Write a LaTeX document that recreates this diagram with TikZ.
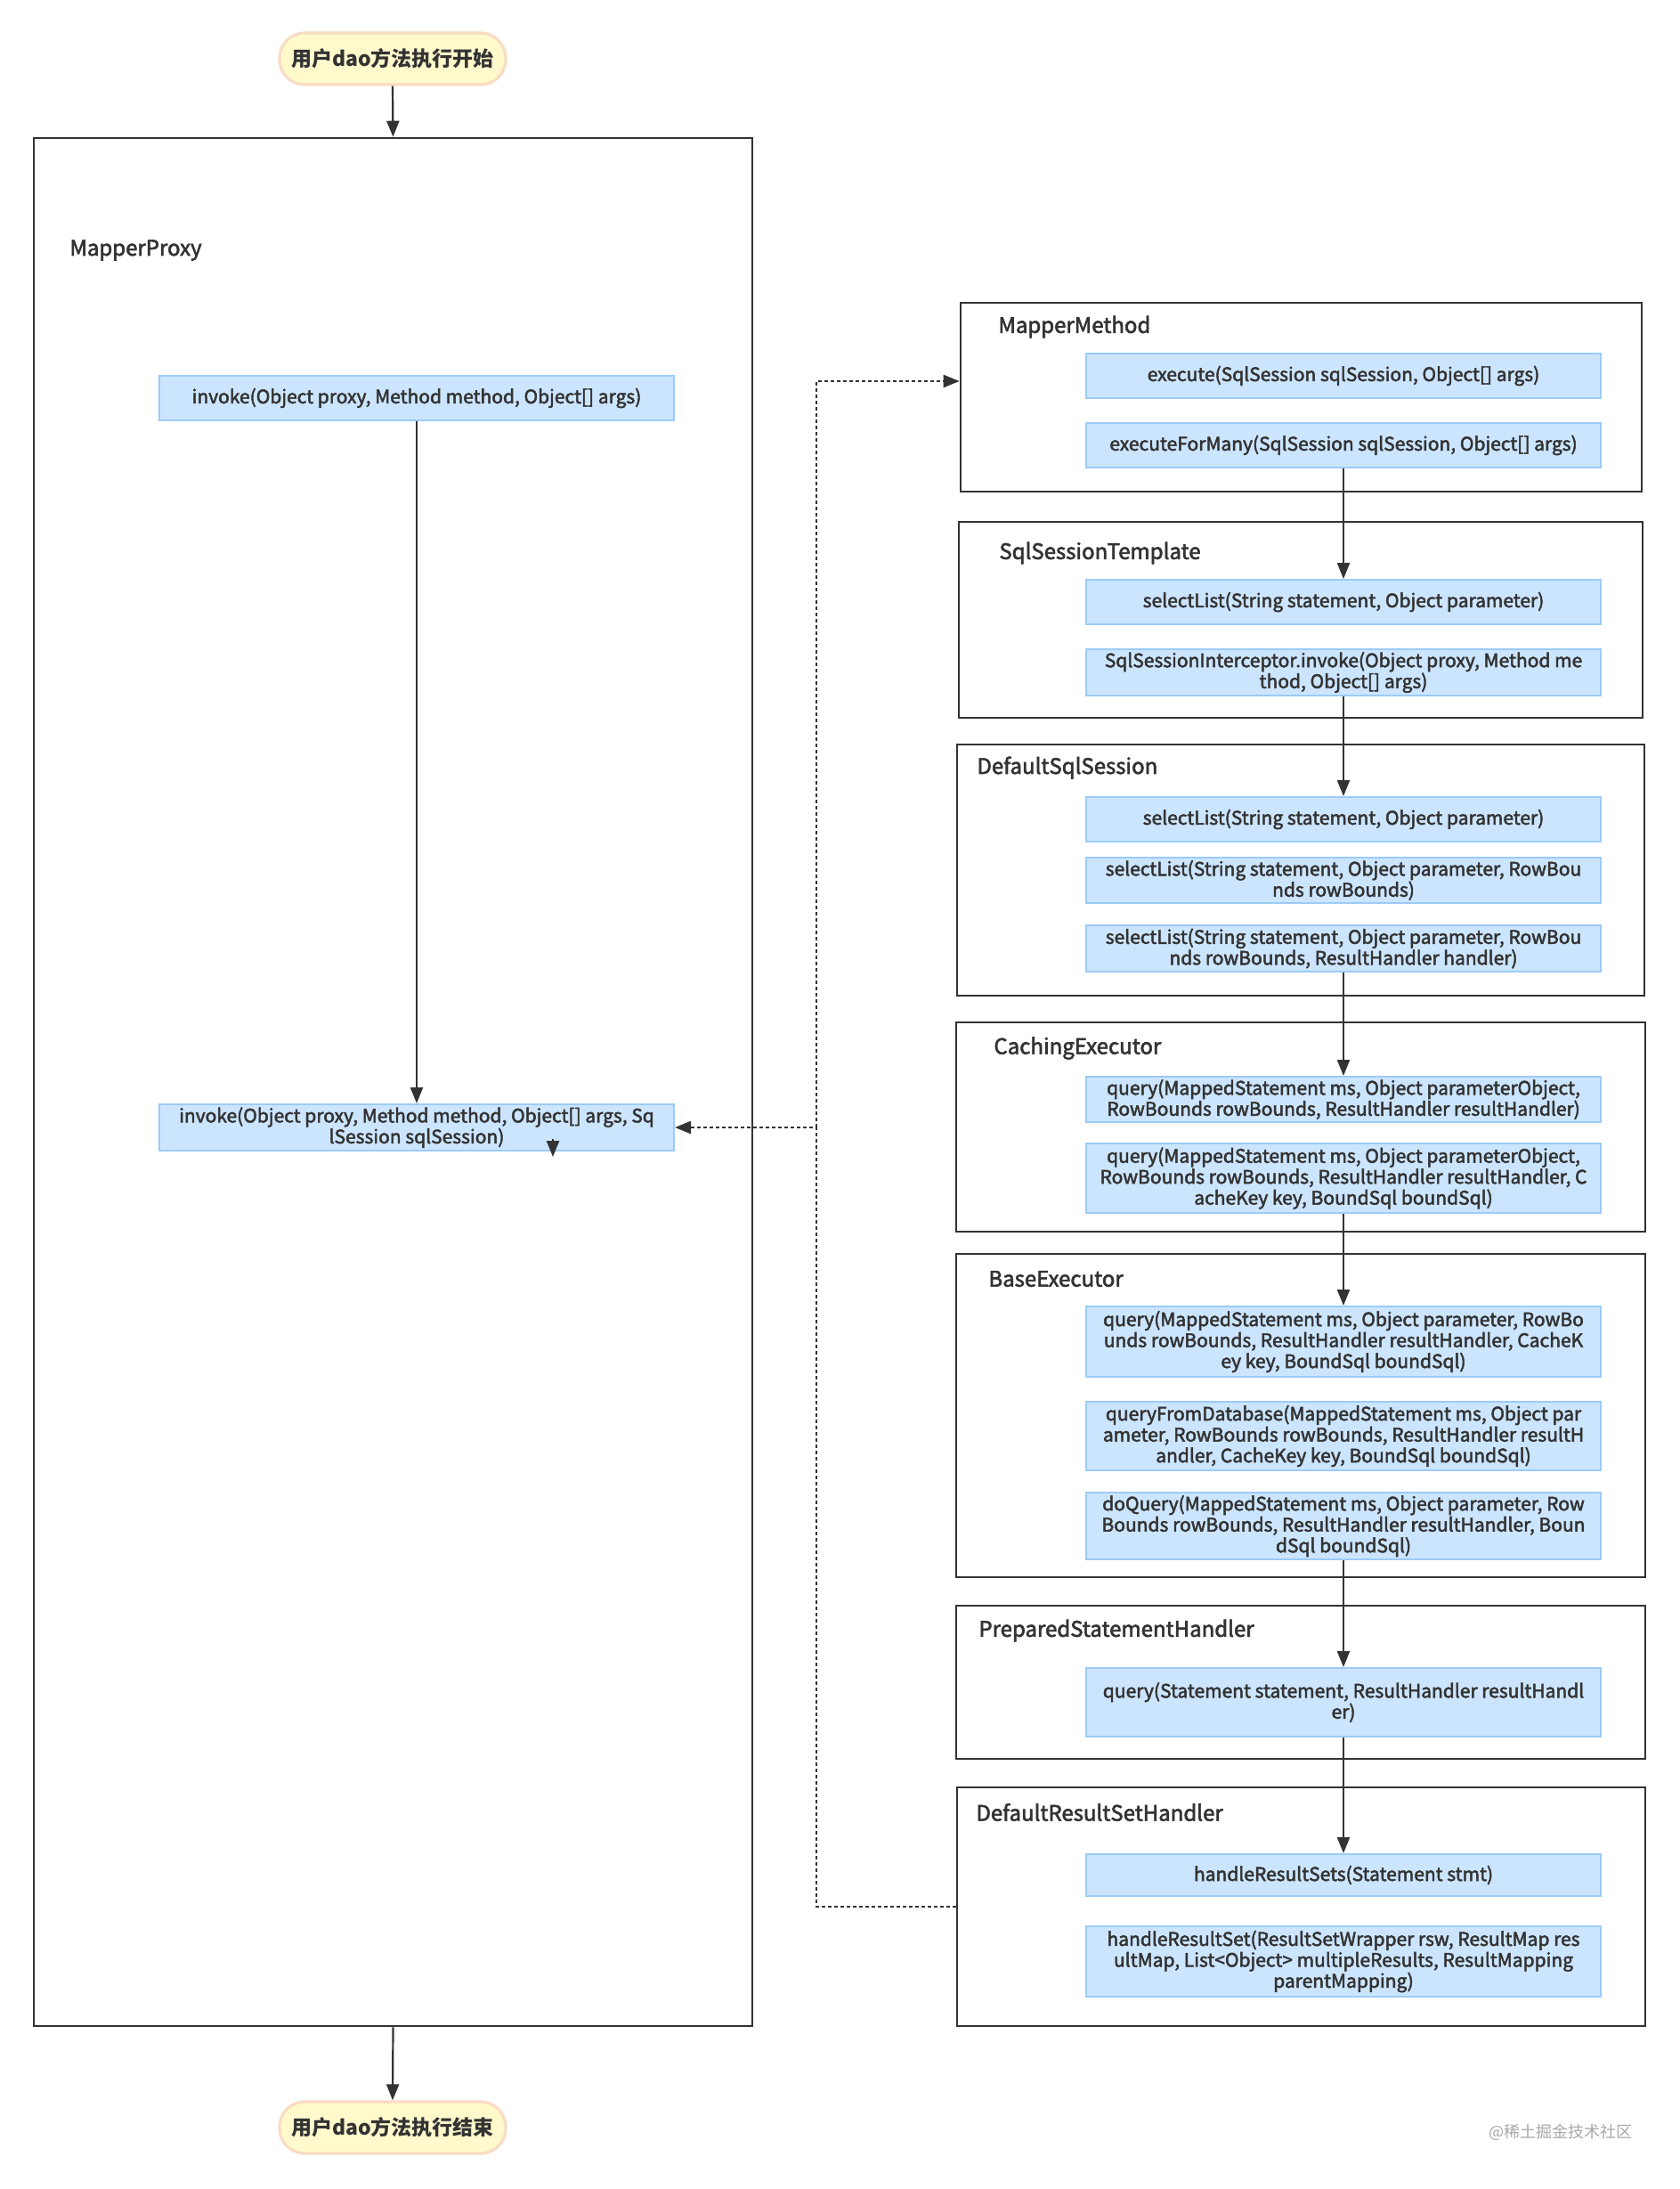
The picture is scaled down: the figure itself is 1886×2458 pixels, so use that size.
\documentclass[tikz,border=0pt]{standalone}
\usepackage{fontspec}
\setmainfont{Noto Sans CJK SC}
\newfontfamily\medfont{Noto Sans CJK SC}[FakeBold=2.4]
\usetikzlibrary{arrows.meta}
\definecolor{ink}{HTML}{333333}
\definecolor{bfill}{HTML}{CCE5FF}
\definecolor{bline}{HTML}{9CCBF7}
\definecolor{pfill}{HTML}{FFF9CC}
\definecolor{pline}{HTML}{F9DCC4}
\definecolor{wm}{HTML}{A8A8A8}
\begin{document}
\begin{tikzpicture}[x=0.5pt,y=-0.5pt,
  cont/.style={draw=ink, line width=1.3pt, inner sep=0pt},
  lbl/.style={anchor=west, inner sep=0pt, text=ink, font=\medfont\fontsize{12}{13.5}\selectfont},
  mb/.style={draw=bline, fill=bfill, line width=1pt, minimum width=289pt, inner sep=0pt, align=center, text=ink, font=\medfont\fontsize{10.5}{11.75}\selectfont},
  pill/.style={draw=pline, fill=pfill, line width=1.6pt, rounded corners=14pt, minimum width=127pt, minimum height=29pt, inner sep=0pt, text=ink, font=\bfseries\fontsize{11.5}{13}\selectfont},
  flow/.style={draw=ink, line width=1.1pt, -{Triangle[length=9pt,width=7pt]}},
  dflow/.style={flow, dash pattern=on 2pt off 1.5pt}
]
\useasboundingbox (0,0) rectangle (1886,2458);
\fill[white] (0,0) rectangle (1886,2458);

% containers
\node[cont, minimum width=403.5pt, minimum height=1060pt] (mp) at (441.5,1215) {};
\node[cont, minimum width=382.5pt, minimum height=106pt] (mm) at (1461.5,446) {};
\node[cont, minimum width=384pt, minimum height=110pt] (sst) at (1461,696) {};
\node[cont, minimum width=386pt, minimum height=141pt] (dss) at (1461,977) {};
\node[cont, minimum width=387pt, minimum height=117.5pt] (ce) at (1461,1265.5) {};
\node[cont, minimum width=387pt, minimum height=181.5pt] (be) at (1461,1589.5) {};
\node[cont, minimum width=387pt, minimum height=86pt] (psh) at (1461,1889) {};
\node[cont, minimum width=386.5pt, minimum height=134pt] (drsh) at (1461.5,2141) {};

% container labels
\node[lbl] (mpl) at (78,281) {MapperProxy};
\node[lbl] (mml) at (1121,367) {MapperMethod};
\node[lbl] (sstl) at (1122,621) {SqlSessionTemplate};
\node[lbl] (dssl) at (1097,862) {DefaultSqlSession};
\node[lbl] (cel) at (1116,1177) {CachingExecutor};
\node[lbl] (bel) at (1110,1436) {BaseExecutor};
\node[lbl] (pshl) at (1099,1831) {PreparedStatementHandler};
\node[lbl] (drshl) at (1096,2035) {DefaultResultSetHandler};

% start / end
\node[pill] (st) at (441,66) {用户dao方法执行开始};
\node[pill] (en) at (441,2389) {用户dao方法执行结束};

% left boxes
\node[mb, minimum height=25pt] (inv1) at (468,447) {invoke(Object proxy, Method method, Object[] args)};
\node[mb, minimum height=26pt] (inv2) at (468,1266) {invoke(Object proxy, Method method, Object[] args, Sq\\lSession sqlSession)};

% right boxes
\node[mb, minimum height=25pt] (ex) at (1509,422) {execute(SqlSession sqlSession, Object[] args)};
\node[mb, minimum height=25pt] (exm) at (1509,500) {executeForMany(SqlSession sqlSession, Object[] args)};
\node[mb, minimum height=25pt] (sl0) at (1509,676) {selectList(String statement, Object parameter)};
\node[mb, minimum height=26pt] (ssi) at (1509,755) {SqlSessionInterceptor.invoke(Object proxy, Method me\\thod, Object[] args)};
\node[mb, minimum height=25pt] (sl1) at (1509,920) {selectList(String statement, Object parameter)};
\node[mb, minimum height=25.5pt] (sl2) at (1509,988.5) {selectList(String statement, Object parameter, RowBou\\nds rowBounds)};
\node[mb, minimum height=26pt] (sl3) at (1509,1065) {selectList(String statement, Object parameter, RowBou\\nds rowBounds, ResultHandler handler)};
\node[mb, minimum height=25.5pt] (q1) at (1509,1234.5) {query(MappedStatement ms, Object parameterObject,\\RowBounds rowBounds, ResultHandler resultHandler)};
\node[mb, minimum height=39pt] (q2) at (1509,1323) {query(MappedStatement ms, Object parameterObject,\\RowBounds rowBounds, ResultHandler resultHandler, C\\acheKey key, BoundSql boundSql)};
\node[mb, minimum height=39.5pt] (bq) at (1509,1506.5) {query(MappedStatement ms, Object parameter, RowBo\\unds rowBounds, ResultHandler resultHandler, CacheK\\ey key, BoundSql boundSql)};
\node[mb, minimum height=38.5pt] (qfd) at (1509,1612.5) {queryFromDatabase(MappedStatement ms, Object par\\ameter, RowBounds rowBounds, ResultHandler resultH\\andler, CacheKey key, BoundSql boundSql)};
\node[mb, minimum height=37.5pt] (dq) at (1509,1713.5) {doQuery(MappedStatement ms, Object parameter, Row\\Bounds rowBounds, ResultHandler resultHandler, Boun\\dSql boundSql)};
\node[mb, minimum height=38.5pt] (pq) at (1509,1911.5) {query(Statement statement, ResultHandler resultHandl\\er)};
\node[mb, minimum height=23.5pt] (hrs) at (1509,2105.5) {handleResultSets(Statement stmt)};
\node[mb, minimum height=39.5pt] (hr) at (1509,2202.5) {handleResultSet(ResultSetWrapper rsw, ResultMap res\\ultMap, List<Object> multipleResults, ResultMapping\\parentMapping)};

% solid arrows
\draw[flow] (st.south) -- (mp.north);
\draw[flow] (mp.south) -- (en.north);
\draw[flow] (inv1.south) -- (inv2.north);
\draw[flow] (exm.south) -- (sl0.north);
\draw[flow] (ssi.south) -- (sl1.north);
\draw[flow] (sl3.south) -- (q1.north);
\draw[flow] (q2.south) -- (bq.north);
\draw[flow] (dq.south) -- (pq.north);
\draw[flow] (pq.south) -- (hrs.north);

% stray arrow tip under invoke box
\coordinate (tipa) at (621,1279);
\coordinate (tipb) at (621,1299);
\draw[flow] (tipa) -- (tipb);

% dashed connectors
\coordinate (dj) at (917,428);
\coordinate (dk) at (917,1266);
\draw[dflow] (dk) -- (dj) -- (mm.west |- dj);
\draw[dflow] (drsh.west) -| (dk) -- (inv2.east);

% watermark
\node[inner sep=0pt, text=wm, font=\fontsize{9}{10}\selectfont] (wmk) at (1753,2394) {@稀土掘金技术社区};
\end{tikzpicture}
\end{document}
